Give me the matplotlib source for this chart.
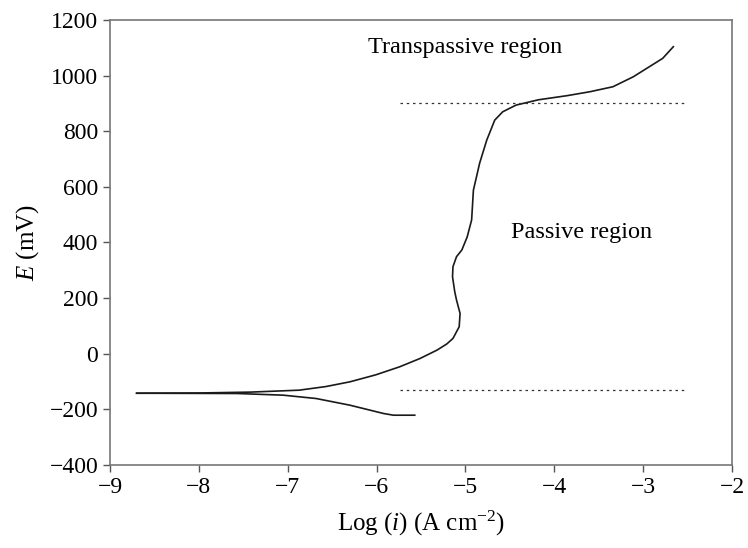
import matplotlib
matplotlib.use("Agg")
import matplotlib.pyplot as plt
from matplotlib.ticker import FuncFormatter

plt.rcParams['font.family'] = ['Liberation Serif', 'DejaVu Serif']
plt.rcParams['mathtext.fontset'] = 'custom'
plt.rcParams['mathtext.rm'] = 'Liberation Serif'
plt.rcParams['mathtext.it'] = 'Liberation Serif:italic'

# Anodic branch (upper curve)
anodic_logi = [-8.70, -7.97, -7.42, -6.87, -6.57, -6.30, -6.01, -5.74, -5.51, -5.32,
               -5.21, -5.14, -5.07, -5.06, -5.10, -5.12, -5.145, -5.14, -5.10, -5.04,
               -4.98, -4.93, -4.91, -4.84, -4.76, -4.67, -4.58, -4.43, -4.18, -3.855,
               -3.60, -3.34, -3.11, -2.93, -2.78, -2.66]
anodic_E = [-142, -141, -138, -131, -118, -101, -76, -47, -17, 13,
            35, 55, 97, 145, 193, 223, 277, 313, 349, 373,
            420, 481, 588, 685, 768, 840, 870, 894, 913, 928,
            942, 960, 996, 1032, 1062, 1104]

# Cathodic branch (lower curve)
cathodic_logi = [-8.70, -7.57, -7.05, -6.68, -6.30, -5.92, -5.81, -5.57]
cathodic_E = [-142, -143, -149, -161, -185, -215, -221, -221]

# Region boundaries
boundary_E = [900, -130]
boundary_logi = [-5.74, -2.52]

xticks = [-9, -8, -7, -6, -5, -4, -3, -2]
yticks = [-400, -200, 0, 200, 400, 600, 800, 1000, 1200]

fig = plt.figure(figsize=(7.48, 5.48), dpi=100)
ax = fig.add_axes([0.147, 0.1515, 0.8316, 0.812])

ax.plot(anodic_logi, anodic_E, color='#1a1a1a', lw=1.2)
ax.plot(cathodic_logi, cathodic_E, color='#1a1a1a', lw=1.2)
for e in boundary_E:
    ax.plot(boundary_logi, [e, e], color='#333333', lw=0.9, linestyle=(0, (2, 3)))

ax.text(-5.0, 1100, 'Transpassive region', ha='center', va='center', fontsize=17.5)
ax.text(-3.69, 437, 'Passive region', ha='center', va='center', fontsize=17.5)

ax.set_xlim(-9, -2)
ax.set_ylim(-400, 1200)
ax.set_xticks(xticks)
ax.set_yticks(yticks)

def fmt(v, pos):
    v = int(round(v))
    return ('\u2212' + str(-v)) if v < 0 else str(v)

ax.xaxis.set_major_formatter(FuncFormatter(fmt))
ax.yaxis.set_major_formatter(FuncFormatter(fmt))
ax.tick_params(direction='out', length=5, width=1, color='#555555', labelsize=17)
for s in ax.spines.values():
    s.set_color('#777777')
    s.set_linewidth(1.2)

ax.set_xlabel('Log ($i$) (A cm$^{-2}$)', fontsize=18, labelpad=8)
ax.set_ylabel('$E$ (mV)', fontsize=18, labelpad=6)

fig.savefig('out.png', dpi=100)
